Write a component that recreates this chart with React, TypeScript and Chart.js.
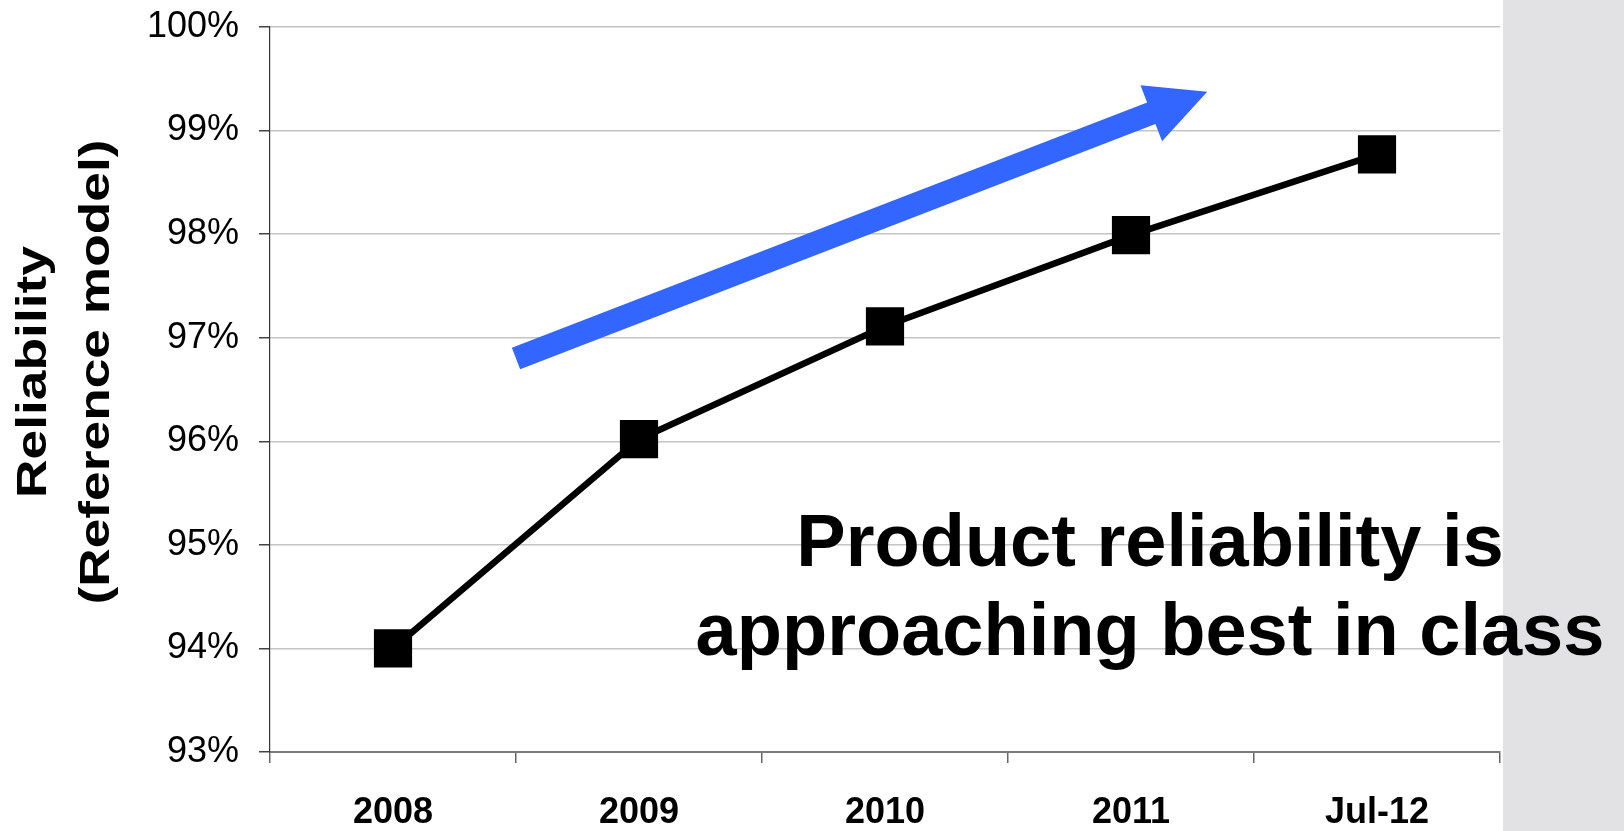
import React, { useEffect, useRef } from "react";
import { Chart, registerables } from "chart.js";

Chart.register(...registerables);

const categories = ["2008", "2009", "2010", "2011", "Jul-12"];
const reliability = [94.0, 96.02, 97.11, 97.99, 98.77];
const yMin = 93;
const yMax = 100;
const yStep = 1;
const yTitleLines = ["Reliability", "(Reference model)"];
const noteLines = ["Product reliability is", "approaching best in class"];
// arrow in scale coordinates (category index, percent)
const arrowTail = { x: 0.5, y: 96.8 };
const arrowTip = { x: 3.31, y: 99.375 };

const FONT = "'Liberation Sans', Arial, Helvetica, sans-serif";

const annotationsPlugin = {
  id: "annotations",
  afterDatasetsDraw(chart: any) {
    const { ctx, scales } = chart;
    const xs = scales.x;
    const ys = scales.y;
    const x0 = xs.getPixelForValue(arrowTail.x);
    const y0 = ys.getPixelForValue(arrowTail.y);
    const x1 = xs.getPixelForValue(arrowTip.x);
    const y1 = ys.getPixelForValue(arrowTip.y);
    const dx = x1 - x0;
    const dy = y1 - y0;
    const len = Math.hypot(dx, dy);
    const ux = dx / len;
    const uy = dy / len;
    const nx = -uy;
    const ny = ux;
    const shaftW = 23;
    const headL = 60;
    const headW = 60;
    const bx = x1 - ux * headL;
    const by = y1 - uy * headL;
    ctx.save();
    ctx.fillStyle = "#3366ff";
    ctx.beginPath();
    ctx.moveTo(x0 + nx * shaftW / 2, y0 + ny * shaftW / 2);
    ctx.lineTo(bx + nx * shaftW / 2, by + ny * shaftW / 2);
    ctx.lineTo(bx + nx * headW / 2, by + ny * headW / 2);
    ctx.lineTo(x1, y1);
    ctx.lineTo(bx - nx * headW / 2, by - ny * headW / 2);
    ctx.lineTo(bx - nx * shaftW / 2, by - ny * shaftW / 2);
    ctx.lineTo(x0 - nx * shaftW / 2, y0 - ny * shaftW / 2);
    ctx.closePath();
    ctx.fill();
    ctx.restore();
  },
  afterDraw(chart: any) {
    const { ctx, chartArea } = chart;
    ctx.save();
    ctx.fillStyle = "#000";
    ctx.font = `bold 74px ${FONT}`;
    ctx.textAlign = "center";
    ctx.textBaseline = "alphabetic";
    const cx = chartArea.left + 880;
    ctx.fillText(noteLines[0], cx, chartArea.top + 539);
    ctx.fillText(noteLines[1], cx, chartArea.top + 628);
    const midY = 372;
    const baselines = [46, 109];
    ctx.font = `bold 43px ${FONT}`;
    yTitleLines.forEach((line, i) => {
      ctx.save();
      ctx.translate(baselines[i], midY);
      ctx.rotate(-Math.PI / 2);
      ctx.scale(1.24, 1);
      ctx.fillText(line, 0, 0);
      ctx.restore();
    });
    ctx.restore();
  },
};

export default function App() {
  const canvasRef = useRef<HTMLCanvasElement | null>(null);

  useEffect(() => {
    if (!canvasRef.current) return;
    const chart = new Chart(canvasRef.current, {
      type: "line",
      data: {
        labels: categories,
        datasets: [
          {
            data: reliability,
            borderColor: "#000",
            borderWidth: 6.5,
            backgroundColor: "#000",
            pointStyle: "rect",
            pointRadius: 27,
            pointBorderWidth: 0,
            pointBackgroundColor: "#000",
            pointHoverRadius: 27,
            tension: 0,
          },
        ],
      },
      options: {
        animation: false,
        responsive: true,
        maintainAspectRatio: false,
        layout: { padding: { top: 24, right: 124, left: 0, bottom: 0 } },
        plugins: {
          legend: { display: false },
          tooltip: { enabled: false },
          title: { display: false },
        },
        scales: {
          x: {
            type: "category",
            offset: true,
            grid: {
              display: true,
              drawOnChartArea: false,
              offset: true,
              tickLength: 11,
              tickColor: "#666",
              lineWidth: 1.5,
            },
            border: { display: true, color: "#7a7a7a", width: 2 },
            ticks: {
              color: "#000",
              font: { family: FONT, size: 36, weight: "bold" },
              padding: 28,
              maxRotation: 0,
            },
            afterFit: (s: any) => {
              s.height = 79;
              s.paddingLeft = 0;
              s.paddingRight = 0;
            },
          },
          y: {
            min: yMin,
            max: yMax,
            grid: {
              color: "#c4c4c4",
              lineWidth: 1.5,
              tickLength: 11,
              tickColor: "#444",
            },
            border: { display: true, color: "#333", width: 1.2 },
            ticks: {
              stepSize: yStep,
              color: "#000",
              font: { family: FONT, size: 36 },
              padding: 20,
              callback: (v: any) => `${v}%`,
            },
            afterFit: (s: any) => {
              s.width = 270;
              s.paddingTop = 0;
              s.paddingBottom = 0;
            },
          },
        },
      },
      plugins: [annotationsPlugin],
    });
    return () => chart.destroy();
  }, []);

  return (
    <div
      style={{
        position: "fixed",
        left: 0,
        top: 0,
        width: 1624,
        height: 831,
        background: "#fff",
        overflow: "hidden",
      }}
    >
      <div
        style={{
          position: "absolute",
          left: 1503,
          top: 0,
          width: 121,
          height: 831,
          background: "#e2e2e4",
        }}
      />
      <div style={{ position: "absolute", left: 0, top: 0, width: 1624, height: 831 }}>
        <canvas ref={canvasRef} />
      </div>
    </div>
  );
}
